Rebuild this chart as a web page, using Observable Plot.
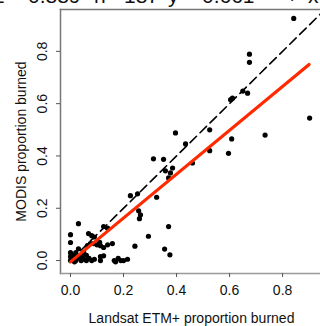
<!DOCTYPE html>
<html>
<head>
<meta charset="utf-8">
<script src="https://cdn.jsdelivr.net/npm/d3@7"></script>
<script src="https://cdn.jsdelivr.net/npm/@observablehq/plot@0.6"></script>
<style>
  html, body { margin: 0; padding: 0; background: #fff; }
  #wrap { position: relative; width: 320px; height: 326px; overflow: hidden; }
  .hdr { position: absolute; top: -15px; font: 21px "Liberation Sans", Arial, sans-serif; line-height: 21px; color: #111; white-space: pre; }
  #chart { position: absolute; top: 0; left: 0; }
</style>
</head>
<body>
<div id="wrap"><div id="chart"></div></div>
<script>
// Header tokens (partly cut off at the top in the reference)
const headerTokens = ["r2", "=", "0.889", "n", "=", "187", "y", "=", "0.661", "+", "x"];
const headerLefts  = [-14, 16, 28, 94, 109, 124, 168, 186, 202, 286, 308];

// Observed points: Landsat ETM+ (x) vs MODIS (y) proportion burned
const landsatX = [
  0.842, 0.675, 0.675, 0.611, 0.604, 0.668, 0.650, 0.902, 0.396, 0.525, 0.434, 0.608, 0.734, 0.596, 0.525,
  0.313, 0.351, 0.385, 0.358, 0.377, 0.460, 0.370, 0.325, 0.257, 0.264, 0.260, 0.226, 0.253,
  0.030, 0.125, 0.140, 0.370, 0.000, 0.000, 0.068, 0.080, 0.158, 0.113, 0.125, 0.087, 0.064, 0.294,
  0.243, 0.355, 0.375, 0.090, 0.100, 0.110, 0.140, 0.075,
  0.000, 0.010, 0.020, 0.030, 0.040, 0.050, 0.060, 0.070, 0.080, 0.010, 0.000, 0.020, 0.030, 0.050,
  0.040, 0.090, 0.000, 0.015, 0.113, 0.113, 0.125, 0.165, 0.180, 0.200, 0.215, 0.170, 0.190, 0.060, 0.045
];
const modisY = [
  0.926, 0.789, 0.758, 0.621, 0.615, 0.640, 0.648, 0.545, 0.488, 0.500, 0.446, 0.465, 0.480, 0.410, 0.420,
  0.389, 0.387, 0.354, 0.343, 0.335, 0.373, 0.316, 0.242, 0.190, 0.175, 0.160, 0.248, 0.255,
  0.141, 0.130, 0.124, 0.130, 0.099, 0.069, 0.103, 0.095, 0.065, 0.057, 0.050, 0.065, 0.057, 0.093,
  0.055, 0.044, 0.022, 0.090, 0.060, 0.070, 0.060, 0.065,
  0.000, 0.005, 0.000, 0.010, 0.000, 0.005, 0.000, 0.008, 0.000, 0.020, 0.030, 0.030, 0.045, 0.030,
  0.020, 0.005, 0.015, -0.005, 0.015, 0.000, 0.018, 0.000, 0.008, 0.000, 0.005, -0.005, 0.000, 0.020, 0.010
];

// 1:1 reference line and fitted regression line
const oneToOneX = [0, 0.97];
const oneToOneY = [0, 0.97];
const fitX = [0, 0.9];
const fitY = [-0.005, 0.75];

const xTicks = [0, 0.2, 0.4, 0.6, 0.8];
const yTicks = [0, 0.2, 0.4, 0.6, 0.8];
const xTitle = ["Landsat ETM+ proportion burned"];
const yTitle = ["MODIS proportion burned"];

const pts = landsatX.map((x, i) => ({x, y: modisY[i]}));
const ref = oneToOneX.map((x, i) => ({x, y: oneToOneY[i]}));
const fit = fitX.map((x, i) => ({x, y: fitY[i]}));

const font = '"Liberation Sans", Arial, sans-serif';

const chart = Plot.plot({
  width: 320,
  height: 326,
  marginLeft: 60,
  marginRight: 0,
  marginTop: 9,
  marginBottom: 53,
  style: {fontFamily: font, fontSize: "14px", color: "#111", background: "white"},
  x: {domain: [-0.0377, 0.943]},
  y: {domain: [-0.0495, 0.96]},
  marks: [
    Plot.dot(pts, {x: "x", y: "y", r: 2.6, fill: "#000", stroke: "none", clip: true}),
    Plot.line(ref, {x: "x", y: "y", stroke: "#000", strokeWidth: 1.6, strokeDasharray: "9,5", clip: true}),
    Plot.line(fit, {x: "x", y: "y", stroke: "#ff2a00", strokeWidth: 3.2}),
    Plot.frame({anchor: "top", stroke: "#777", strokeWidth: 1.5}),
    Plot.frame({anchor: "left", stroke: "#777", strokeWidth: 1.5}),
    Plot.frame({anchor: "bottom", stroke: "#999", strokeWidth: 1.5}),
    Plot.axisX({ticks: xTicks, tickFormat: d3.format(".1f"), tickSize: 4, tickPadding: 8, stroke: "#555", label: null, fontSize: 14}),
    Plot.axisY({ticks: yTicks, tickSize: 4, tickFormat: () => "", stroke: "#555", label: null}),
    Plot.text(yTicks, {y: d => d, frameAnchor: "left", dx: -18, rotate: -90, text: d => d3.format(".1f")(d), textAnchor: "middle", lineAnchor: "middle", fill: "#111", fontSize: 14}),
    Plot.text(xTitle, {frameAnchor: "bottom", dy: 45, text: d => d, textAnchor: "middle", lineAnchor: "middle", fill: "#111", fontSize: 14, dx: 1}),
    Plot.text(yTitle, {frameAnchor: "left", dx: -39, rotate: -90, text: d => d, textAnchor: "middle", lineAnchor: "middle", fill: "#111", fontSize: 14})
  ]
});
document.getElementById("chart").appendChild(chart);

const wrap = document.getElementById("wrap");
headerTokens.forEach((t, i) => {
  const s = document.createElement("span");
  s.className = "hdr";
  s.style.left = headerLefts[i] + "px";
  s.textContent = t;
  wrap.appendChild(s);
});
</script>
</body>
</html>
